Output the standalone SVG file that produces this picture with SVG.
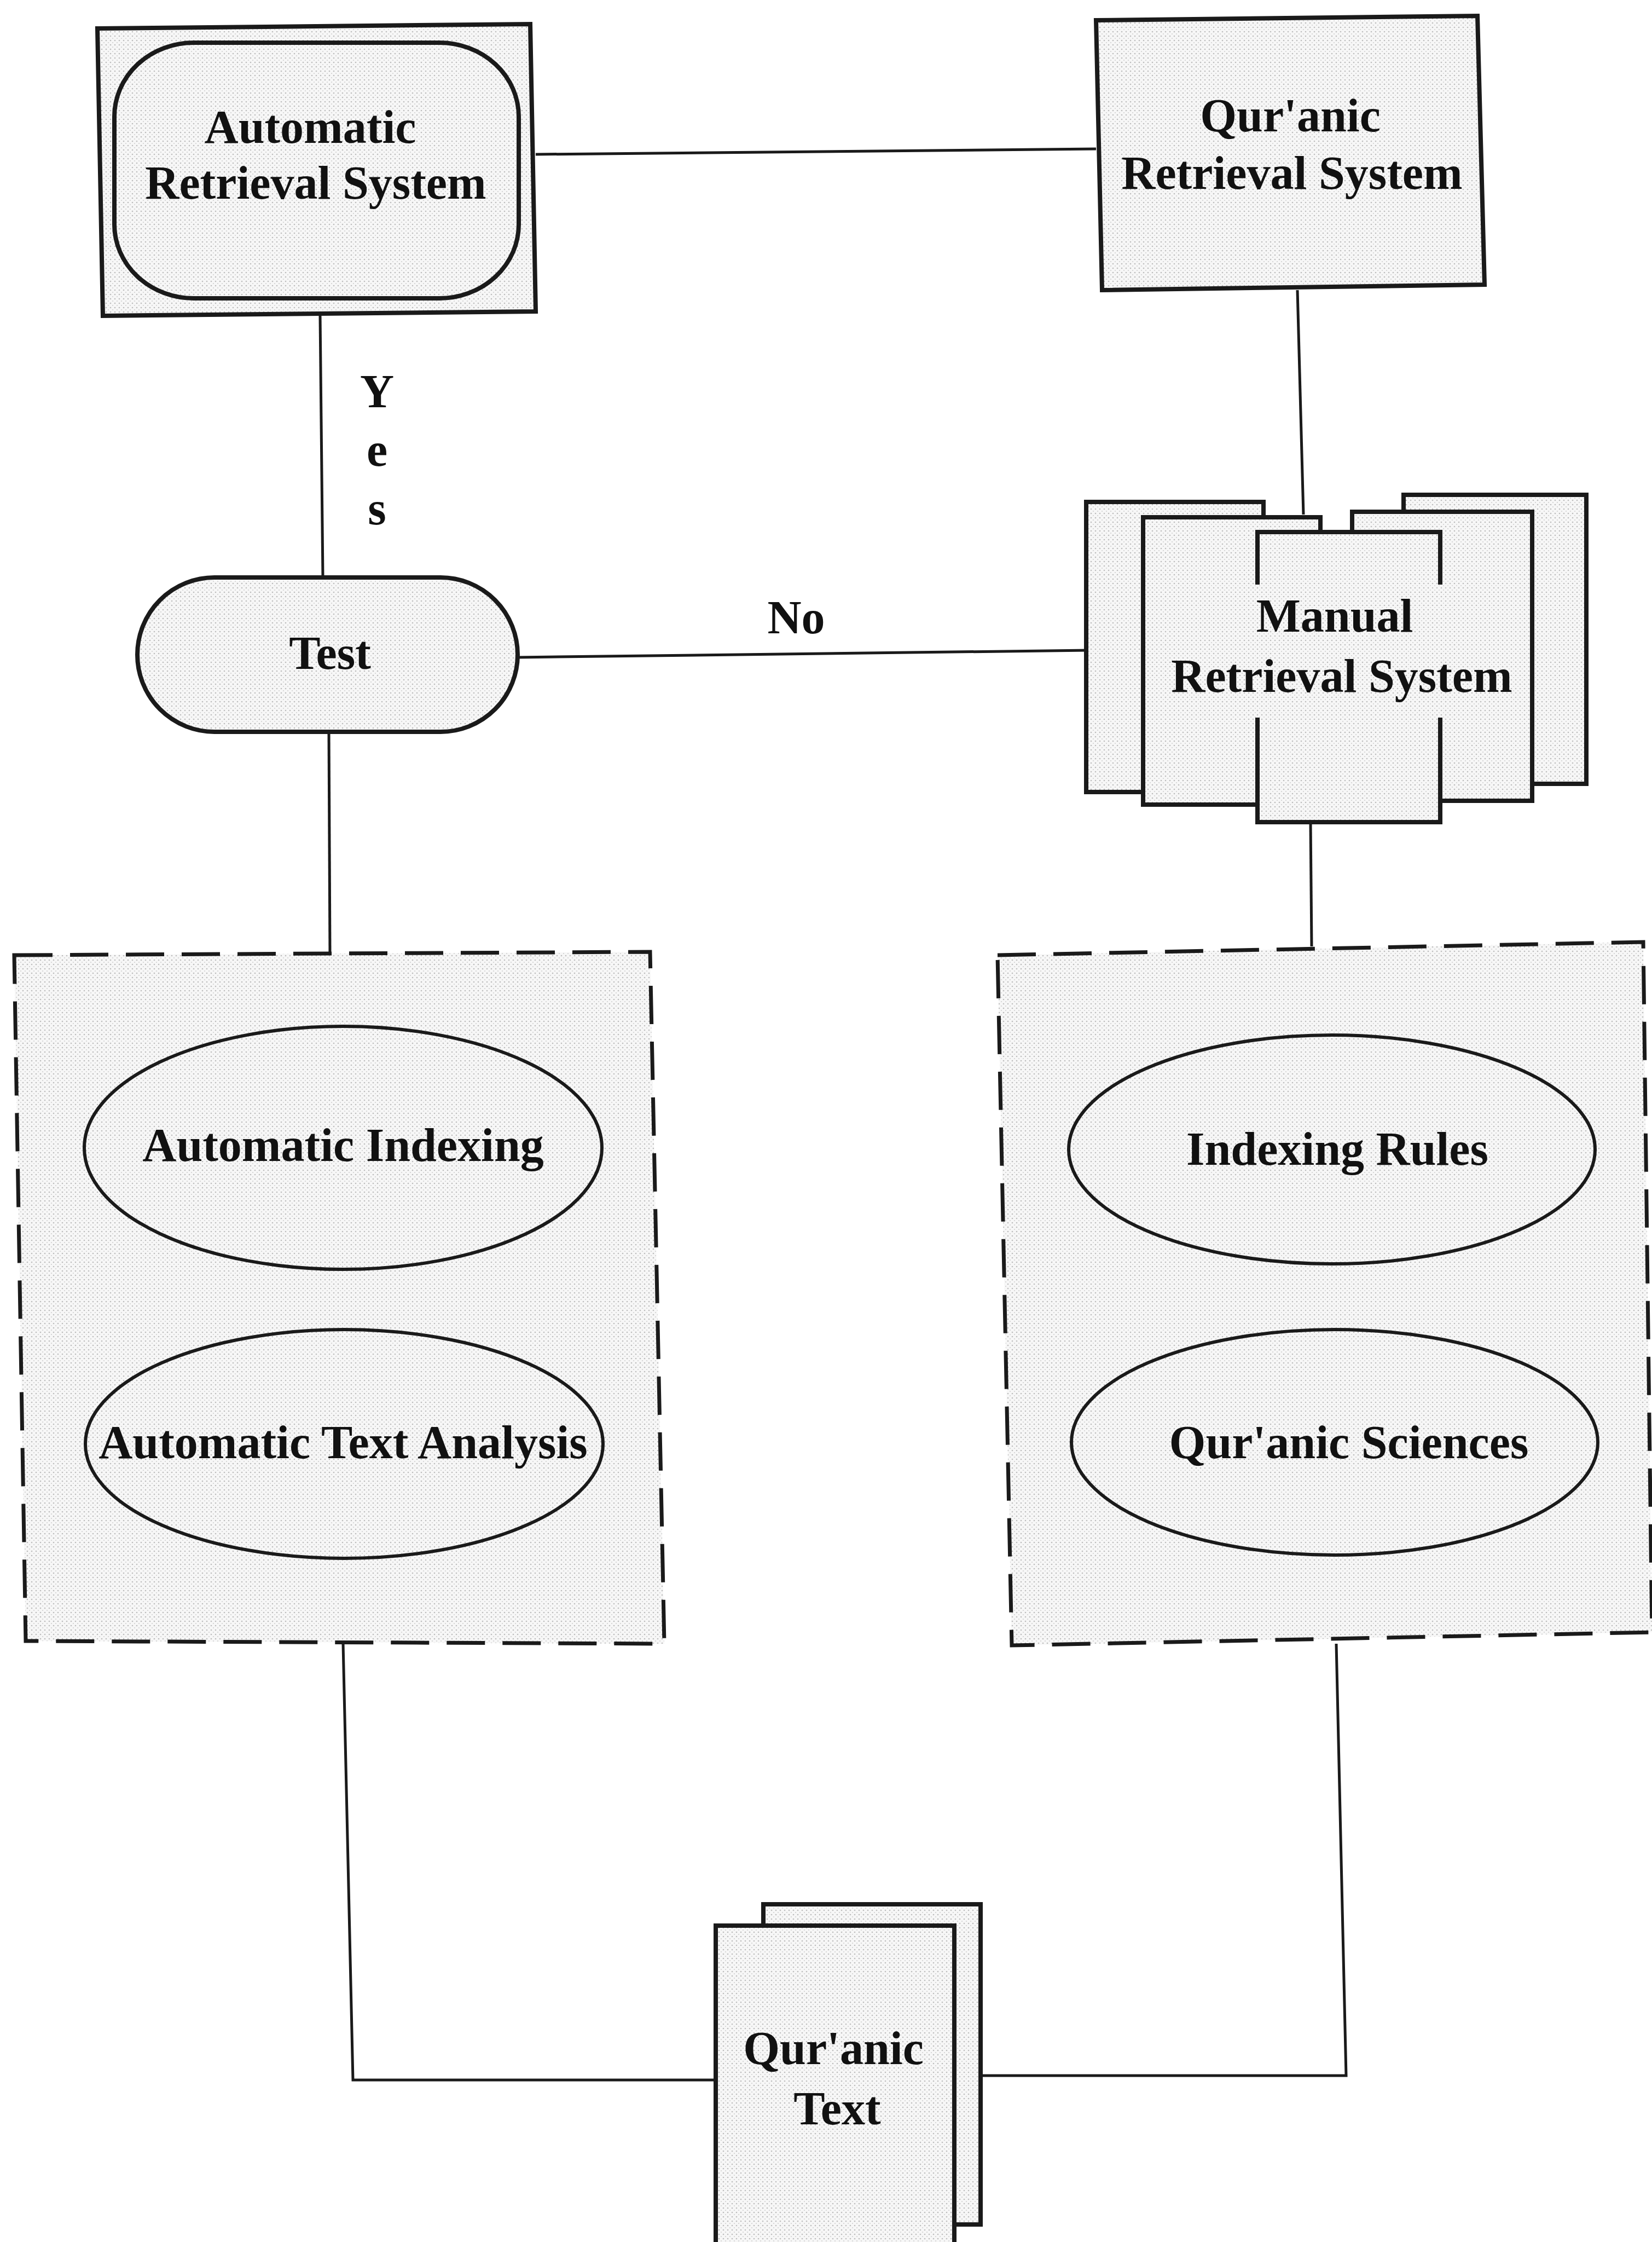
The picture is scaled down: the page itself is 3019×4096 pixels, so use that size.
<svg xmlns="http://www.w3.org/2000/svg" width="3019" height="4096" viewBox="0 0 3019 4096">
<defs>
<pattern id="stip" width="8" height="8" patternUnits="userSpaceOnUse">
<rect width="8" height="8" fill="#f7f7f7"/>
<circle cx="2" cy="2" r="1.3" fill="#bdbdbd"/>
<circle cx="6" cy="6" r="1.1" fill="#d0d0d0"/>
</pattern>
</defs>
<style>
.box{fill:url(#stip);stroke:#1a1a1a;stroke-width:8;stroke-linejoin:miter}
.ell{fill:url(#stip);stroke:#1a1a1a;stroke-width:6}
.dash{fill:url(#stip);stroke:#1a1a1a;stroke-width:7;stroke-dasharray:70 32}
.con{fill:none;stroke:#1a1a1a;stroke-width:5}
.mask{fill:url(#stip);stroke:none}
text{font-family:"Liberation Serif","Times New Roman",serif;font-weight:bold;font-size:86px;fill:#111;text-anchor:middle}
</style>
<rect width="3019" height="4096" fill="#ffffff"/>

<g id="connectors">
<line class="con" x1="979" y1="282" x2="2003" y2="272"/>
<line class="con" x1="585" y1="577" x2="590" y2="1055"/>
<line class="con" x1="945" y1="1201" x2="1990" y2="1188"/>
<line class="con" x1="601" y1="1337" x2="603" y2="1745"/>
<line class="con" x1="2371" y1="530" x2="2382" y2="940"/>
<line class="con" x1="2395" y1="1502" x2="2397" y2="1729"/>
<polyline class="con" points="627,3003 645,3800 1311,3800"/>
<polyline class="con" points="2442,3003 2460,3792 1792,3792"/>
<text x="689" y="744">Y</text>
<text x="689" y="851">e</text>
<text x="689" y="958">s</text>
<text x="1455" y="1157">No</text>
</g>

<g id="automatic-retrieval-system">
<polygon class="box" points="178,52 969,44 979,569 188,577"/>
<rect class="box" x="209" y="78" width="739" height="467" rx="145" ry="135"/>
<text x="567" y="261">Automatic</text>
<text x="577" y="363">Retrieval System</text>
</g>

<g id="quranic-retrieval-system">
<polygon class="box" points="2003,37 2700,29 2713,520 2014,530"/>
<text x="2358" y="240">Qur'anic</text>
<text x="2361" y="345">Retrieval System</text>
</g>

<g id="test">
<rect class="box" x="251" y="1055" width="695" height="282" rx="141" ry="141"/>
<text x="603" y="1222">Test</text>
</g>

<g id="manual-retrieval-system">
<rect class="box" x="1985" y="917" width="324" height="530"/>
<rect class="box" x="2565" y="904" width="334" height="528"/>
<rect class="box" x="2089" y="945" width="324" height="525"/>
<rect class="box" x="2471" y="935" width="329" height="528"/>
<rect class="box" x="2298" y="972" width="334" height="530"/>
<rect class="mask" x="2285" y="1068" width="360" height="243"/>
<text x="2439" y="1154">Manual</text>
<text x="2452" y="1264">Retrieval System</text>
</g>

<g id="automatic-group">
<polygon class="dash" points="26,1745 1188,1739 1214,3003 47,2998"/>
<g id="automatic-indexing">
<ellipse class="ell" cx="627" cy="2097" rx="473" ry="222"/>
<text x="627" y="2121">Automatic Indexing</text>
</g>
<g id="automatic-text-analysis">
<ellipse class="ell" cx="629" cy="2638" rx="473" ry="209"/>
<text x="627" y="2664">Automatic Text Analysis</text>
</g>
</g>

<g id="manual-group">
<polygon class="dash" points="1823,1745 3003,1721 3019,2982 1849,3006"/>
<g id="indexing-rules">
<ellipse class="ell" cx="2434" cy="2100" rx="481" ry="209"/>
<text x="2444" y="2128">Indexing Rules</text>
</g>
<g id="quranic-sciences">
<ellipse class="ell" cx="2439" cy="2635" rx="481" ry="206"/>
<text x="2465" y="2664">Qur'anic Sciences</text>
</g>
</g>

<g id="quranic-text">
<rect class="box" x="1395" y="3479" width="397" height="585"/>
<rect class="box" x="1308" y="3518" width="436" height="600"/>
<text x="1523" y="3771">Qur'anic</text>
<text x="1530" y="3881">Text</text>
</g>
</svg>
